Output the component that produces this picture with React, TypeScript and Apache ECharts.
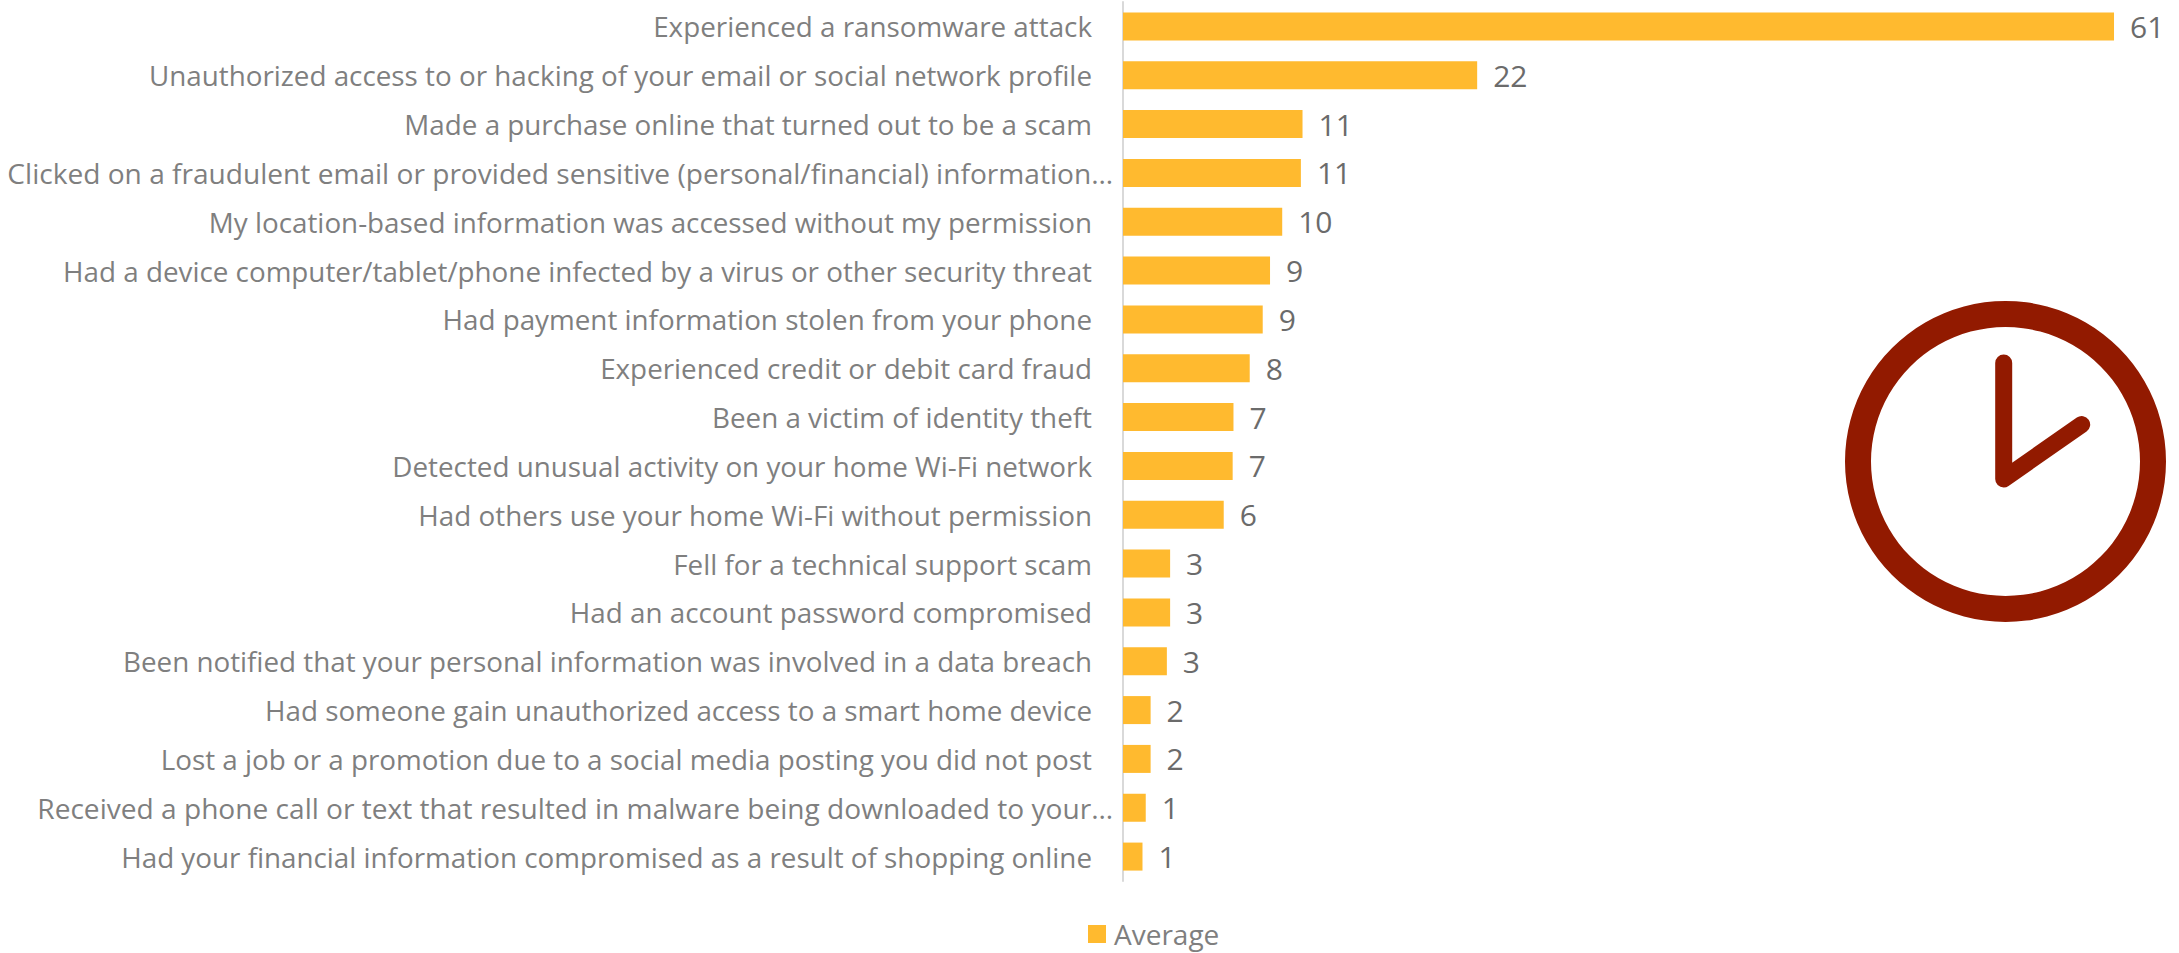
import React, { useEffect, useRef } from "react";
import * as echarts from "echarts";

const categories = [
  "Experienced a ransomware attack",
  "Unauthorized access to or hacking of your email or social network profile",
  "Made a purchase online that turned out to be a scam",
  "Clicked on a fraudulent email or provided sensitive (personal/financial) information…",
  "My location-based information was accessed without my permission",
  "Had a device computer/tablet/phone infected by a virus or other security threat",
  "Had payment information stolen from your phone",
  "Experienced credit or debit card fraud",
  "Been a victim of identity theft",
  "Detected unusual activity on your home Wi-Fi network",
  "Had others use your home Wi-Fi without permission",
  "Fell for a technical support scam",
  "Had an account password compromised",
  "Been notified that your personal information was involved in a data breach",
  "Had someone gain unauthorized access to a smart home device",
  "Lost a job or a promotion due to a social media posting you did not post",
  "Received a phone call or text that resulted in malware being downloaded to your…",
  "Had your financial information compromised as a result of shopping online",
];
const averages = [61, 21.8, 11.05, 10.95, 9.8, 9.05, 8.6, 7.8, 6.8, 6.75, 6.2, 2.9, 2.9, 2.7, 1.7, 1.7, 1.4, 1.2];

const FONT = '"Open Sans", sans-serif';

export default function App() {
  const ref = useRef<HTMLDivElement>(null);
  useEffect(() => {
    const chart = echarts.init(ref.current!, null, { renderer: "svg" });
    chart.setOption({
      animation: false,
      backgroundColor: "#ffffff",
      grid: { left: 1123, top: 2, width: 1056, height: 879, containLabel: false },
      legend: {
        show: true,
        left: 1088,
        top: 920,
        padding: 0,
        itemWidth: 18,
        itemHeight: 18,
        itemGap: 8,
        icon: "rect",
        textStyle: { color: "#7F7F7F", fontFamily: FONT, fontSize: 28, padding: [0, 0, 0, 3] },
      },
      xAxis: { type: "value", min: 0, max: 65, show: false },
      yAxis: {
        type: "category",
        inverse: true,
        data: categories,
        axisTick: { show: false },
        axisLine: { show: true, lineStyle: { color: "#D9D9D9", width: 2 } },
        axisLabel: {
          interval: 0,
          margin: 10,
          color: "#7F7F7F",
          fontFamily: FONT,
          fontSize: 27.8,
          formatter: (v: string) => (v.endsWith("…") ? `{t|${v}}` : `{n|${v}}`),
          rich: {
            t: { color: "#7F7F7F", fontFamily: FONT, fontSize: 28.1 },
            n: { color: "#7F7F7F", fontFamily: FONT, fontSize: 27.8, padding: [0, 21, 0, 0] },
          },
        },
      },
      series: [
        {
          name: "Average",
          type: "bar",
          data: averages,
          barWidth: 28,
          itemStyle: { color: "#FFBA2F" },
          label: {
            show: true,
            position: "right",
            distance: 16,
            color: "#6B6B6B",
            fontFamily: FONT,
            fontSize: 30,
            formatter: (p: any) => String(Math.round(p.value)),
          },
        },
      ],
      graphic: [
        {
          type: "ring",
          shape: { cx: 2005.5, cy: 461.5, r: 160.5, r0: 134.5 },
          style: { fill: "#921A00" },
        },
        {
          type: "polyline",
          shape: { points: [[2003.7, 363], [2003.7, 479], [2081.7, 424.5]] },
          style: { stroke: "#921A00", lineWidth: 17, fill: "none", lineCap: "round", lineJoin: "round" },
        },
      ],
    });
    return () => chart.dispose();
  }, []);
  return <div ref={ref} style={{ position: "absolute", left: 0, top: 0, width: 2179, height: 953 }} />;
}
